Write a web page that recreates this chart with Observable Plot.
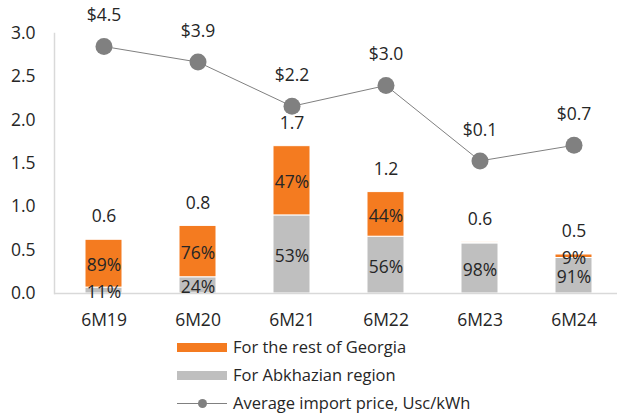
<!DOCTYPE html>
<html>
<head>
<meta charset="utf-8">
<script src="https://cdn.jsdelivr.net/npm/d3@7"></script>
<script src="https://cdn.jsdelivr.net/npm/@observablehq/plot@0.6"></script>
<style>
  html, body { margin: 0; padding: 0; background: #fff; }
  body { width: 617px; height: 414px; overflow: hidden; font-family: "Open Sans", sans-serif; color: #262626; }
  #legend { margin-top: -2px; }
  .row { display: flex; align-items: center; height: 28px; padding-left: 177px; font-size: 16.5px; line-height: 16px; }
  .sw { width: 50px; height: 9px; margin-right: 6px; flex: none; }
  .ln { width: 50px; height: 9px; margin-right: 6px; flex: none; position: relative; }
  .ln::before { content: ""; position: absolute; left: 0; right: 0; top: 4px; height: 1px; background: #808080; }
  .ln::after { content: ""; position: absolute; left: 20.5px; top: 0; width: 9px; height: 9px; border-radius: 50%; background: #808080; }
</style>
</head>
<body>
<div id="chart"></div>
<div id="legend"></div>
<script>
const periods = ["6M19", "6M20", "6M21", "6M22", "6M23", "6M24"];
const totals = [0.62, 0.78, 1.70, 1.17, 0.59, 0.45];
const totalLabels = ["0.6", "0.8", "1.7", "1.2", "0.6", "0.5"];
const abkhazShare = [0.11, 0.24, 0.53, 0.56, 0.98, 0.91];
const restShare = [0.89, 0.76, 0.47, 0.44, 0.02, 0.09];
const prices = [4.5, 3.9, 2.2, 3.0, 0.1, 0.7];
const priceLabels = ["$4.5", "$3.9", "$2.2", "$3.0", "$0.1", "$0.7"];
const yTicks = [0, 0.5, 1.0, 1.5, 2.0, 2.5, 3.0];
const seriesNames = ["For Abkhazian region", "For the rest of Georgia"];
const seriesColors = ["#bfbfbf", "#f47b20"];
const priceName = "Average import price, Usc/kWh";
const priceAxisDomain = [-5, 5]; // hidden secondary axis

const rows = [];
periods.forEach((p, i) => {
  rows.push({period: p, series: seriesNames[0], share: abkhazShare[i], value: totals[i] * abkhazShare[i]});
  rows.push({period: p, series: seriesNames[1], share: restShare[i], value: totals[i] * restShare[i]});
});
const totalsData = periods.map((p, i) => ({period: p, total: totals[i], label: totalLabels[i]}));
const priceToPrimary = d3.scaleLinear(priceAxisDomain, [0, 3]);
const priceData = periods.map((p, i) => ({period: p, price: prices[i], y: priceToPrimary(prices[i]), label: priceLabels[i]}));

const font = "Open Sans, sans-serif";
const txt = "#262626";
const fs = 17.5;

const chart = Plot.plot({
  width: 617,
  height: 335,
  marginLeft: 54,
  marginRight: -5,
  marginTop: 33,
  marginBottom: 42,
  style: {fontFamily: font, fontSize: fs + "px", color: txt, background: "#fff"},
  x: {domain: periods, paddingInner: 0.61, paddingOuter: 0.305, label: null},
  y: {domain: [0, 3], label: null},
  color: {domain: seriesNames, range: seriesColors},
  marks: [
    Plot.barY(rows, {x: "period", y: "value", fill: "series", stroke: "#fff", strokeWidth: 1}),
    Plot.ruleY([0], {stroke: "#d9d9d9", strokeWidth: 1.5}),
    Plot.frame({anchor: "left", stroke: "#d9d9d9", strokeWidth: 1.5}),
    Plot.axisY({ticks: yTicks, tickSize: 0, tickPadding: 19, tickFormat: d3.format(".1f"), fontSize: fs, fill: txt, label: null}),
    Plot.axisX({tickSize: 0, tickPadding: 20, fontSize: fs, fill: txt, label: null}),
    Plot.text(rows, Plot.stackY({x: "period", y: "value", text: d => Math.round(d.share * 100) + "%", filter: d => d.share >= 0.05, fill: txt, fontSize: fs, dy: 2})),
    Plot.text(totalsData, {x: "period", y: "total", text: "label", dy: -23, fill: txt, fontSize: fs}),
    Plot.line(priceData, {x: "period", y: "y", stroke: "#808080", strokeWidth: 1}),
    Plot.dot(priceData, {x: "period", y: "y", r: 8.5, fill: "#808080"}),
    Plot.text(priceData, {x: "period", y: "y", text: "label", dy: -31, fill: txt, fontSize: fs})
  ]
});
document.getElementById("chart").appendChild(chart);

const legend = document.getElementById("legend");
[[seriesNames[1], seriesColors[1], "bar"], [seriesNames[0], seriesColors[0], "bar"], [priceName, "#808080", "line"]].forEach(([name, color, kind]) => {
  const row = document.createElement("div");
  row.className = "row";
  const sw = document.createElement("span");
  if (kind === "bar") { sw.className = "sw"; sw.style.background = color; }
  else { sw.className = "ln"; }
  const t = document.createElement("span");
  t.textContent = name;
  row.appendChild(sw);
  row.appendChild(t);
  legend.appendChild(row);
});
</script>
</body>
</html>
